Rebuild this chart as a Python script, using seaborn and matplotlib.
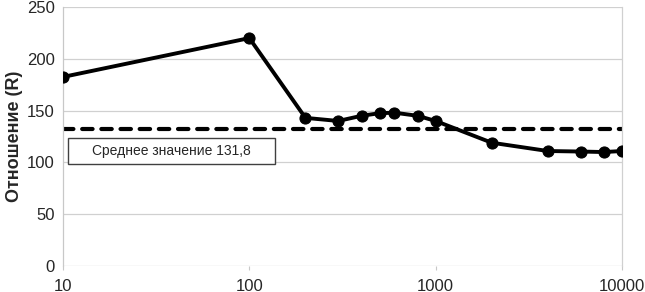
import numpy as np
import pandas as pd
import matplotlib
matplotlib.use("Agg")
import matplotlib.pyplot as plt
import seaborn as sns
from matplotlib.patches import Rectangle
from matplotlib.ticker import FixedLocator, FixedFormatter, NullLocator

# data
frequency = [10, 100, 200, 300, 400, 500, 600, 800, 1000, 2000, 4000, 6000, 8000, 10000]
ratio = [182.5, 220, 143, 140, 145, 147.5, 148, 145, 140, 119, 111, 110.5, 110, 111]
mean_value = 131.8
mean_label = "Среднее значение 131,8"
x_ticks = [10, 100, 1000, 10000]
x_labels = ["10", "100", "1000", "10000"]
y_ticks = [0, 50, 100, 150, 200, 250]

sns.set_style("white")
plt.rcParams['font.family'] = ['Liberation Sans', 'DejaVu Sans']

df = pd.DataFrame({"x": frequency, "y": ratio})

fig = plt.figure(figsize=(6.45, 2.92), dpi=100)
ax = fig.add_axes([0.0977, 0.089, 0.8666, 0.887])

ax.axhline(mean_value, color='black', linewidth=3, linestyle=(0, (2.5, 2.1)),
           dash_capstyle='round', zorder=2)
sns.lineplot(data=df, x="x", y="y", ax=ax, color='black', linewidth=2.8,
             marker='o', markersize=8, markeredgecolor='black', zorder=3)

ax.set_xscale('log')
ax.set_xlim(10, 10000)
ax.set_ylim(0, 250)

ax.xaxis.set_major_locator(FixedLocator(x_ticks))
ax.xaxis.set_major_formatter(FixedFormatter(x_labels))
ax.xaxis.set_minor_locator(NullLocator())
ax.set_yticks(y_ticks)

for y in y_ticks[1:]:
    ax.axhline(y, color='#d0d0d0', linewidth=0.9, zorder=0)

for s in ['top', 'bottom']:
    ax.spines[s].set_visible(False)
ax.spines['left'].set_color('#c8c8c8')
ax.spines['right'].set_color('#d0d0d0')
ax.spines['left'].set_linewidth(0.9)
ax.spines['right'].set_linewidth(0.9)
ax.axhline(0, color='#c8c8c8', linewidth=0.9, zorder=0)

ax.tick_params(axis='x', which='major', direction='out', length=3, color='#c8c8c8',
               labelsize=12, pad=6)
ax.tick_params(axis='y', length=0, labelsize=12, pad=6)
ax.tick_params(axis='x', bottom=True)

ax.set_xlabel("")
ax.set_ylabel("Отношение (R)", fontsize=13, fontweight='bold', labelpad=3)

# legend-like box for the mean line
ax.add_patch(Rectangle((0.009, 0.394), 0.37, 0.1, transform=ax.transAxes,
                       facecolor='white', edgecolor='#404040', linewidth=1.0, zorder=4))
ax.text(0.194, 0.444, mean_label, transform=ax.transAxes, ha='center', va='center',
        fontsize=10, zorder=5)

fig.savefig("out.png", dpi=100)
